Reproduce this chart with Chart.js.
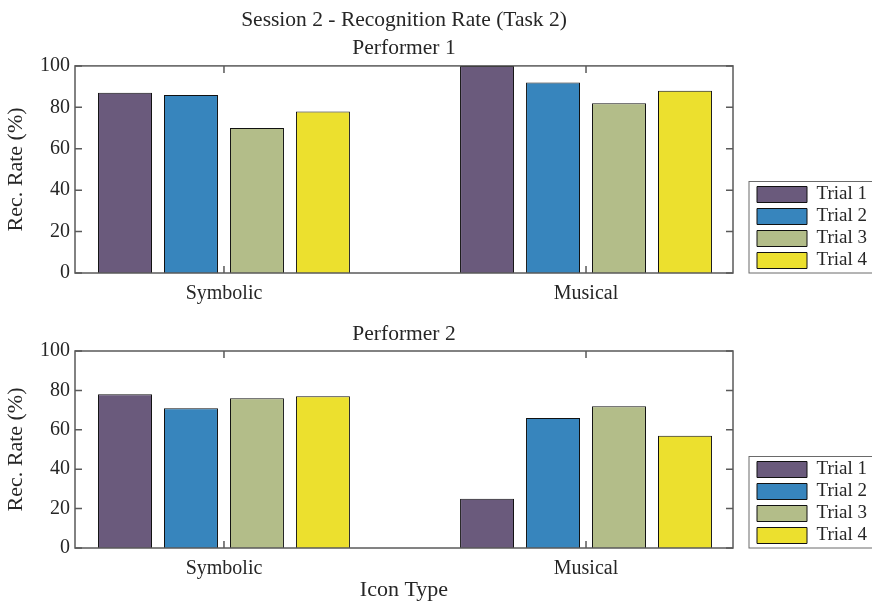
<!DOCTYPE html>
<html>
<head>
<meta charset="utf-8">
<script src="https://cdn.jsdelivr.net/npm/chart.js@4.4.1/dist/chart.umd.min.js"></script>
<style>
    html, body { margin: 0; padding: 0; background: #fff; }
    #wrap { position: relative; width: 872px; height: 604px; }
    .panel { position: absolute; left: 0; width: 872px; }
</style>
</head>
<body>
<div id="wrap">
    <div class="panel" style="top:0;height:305px"><canvas id="chart1"></canvas></div>
    <div class="panel" style="top:305px;height:299px"><canvas id="chart2"></canvas></div>
</div>
<script>
const mainTitle = 'Session 2 - Recognition Rate (Task 2)';
const categories = ['Symbolic', 'Musical'];
const trialNames = ['Trial 1', 'Trial 2', 'Trial 3', 'Trial 4'];
const trialColors = ['rgb(106, 90, 124)', 'rgb(55, 133, 189)', 'rgb(179, 189, 137)', 'rgb(236, 224, 46)'];
const yTicks = [0, 20, 40, 60, 80, 100];
// per trial: [Symbolic, Musical]
const performer1 = [[87, 100], [86, 92], [70, 82], [78, 88]];
const performer2 = [[78, 25], [71, 66], [76, 72], [77, 57]];

const textColor = '#262626';
Chart.defaults.font.family = "'Liberation Serif', 'Times New Roman', serif";
Chart.defaults.color = textColor;

// matlab style box with inner ticks, plus a border round the legend
const axesBox = {
    id: 'axesBox',
    afterDraw(chart) {
        const ctx = chart.ctx;
        const a = chart.chartArea;
        const x = chart.scales.x, y = chart.scales.y;
        ctx.save();
        ctx.strokeStyle = '#5a5a5a';
        ctx.lineWidth = 1.5;
        ctx.beginPath();
        yTicks.forEach(v => {
            const py = y.getPixelForValue(v);
            ctx.moveTo(a.left, py); ctx.lineTo(a.left + 7, py);
            ctx.moveTo(a.right, py); ctx.lineTo(a.right - 7, py);
        });
        categories.forEach((c, i) => {
            const px = x.getPixelForValue(i + 1);
            ctx.moveTo(px, a.top); ctx.lineTo(px, a.top + 7);
            ctx.moveTo(px, a.bottom); ctx.lineTo(px, a.bottom - 7);
        });
        ctx.stroke();
        ctx.strokeRect(a.left, a.top, a.width, a.height);

        const lg = chart.legend;
        if (lg && lg.legendHitBoxes && lg.legendHitBoxes.length) {
            const pad = lg.options.labels.padding;
            const left = lg.left + pad - 8;
            const top = lg.legendHitBoxes[0].top - 3.5;
            ctx.lineWidth = 1;
            ctx.strokeStyle = '#6a6a6a';
            ctx.strokeRect(left, top, chart.width + 5 - left, a.bottom - top);
        }
        ctx.restore();
    }
};

function makeChart(id, titleLines, values, withXTitle) {
    const datasets = trialNames.map((name, t) => ({
        label: name,
        data: categories.map((c, i) => ({x: i + 1, y: values[t][i]})),
        backgroundColor: trialColors[t],
        borderColor: '#111',
        borderWidth: 1,
        categoryPercentage: 0.729,
        barPercentage: 0.818
    }));
    const first = titleLines.length > 1;
    return new Chart(document.getElementById(id).getContext('2d'), {
        type: 'bar',
        data: {datasets},
        plugins: [axesBox],
        options: {
            responsive: true,
            maintainAspectRatio: false,
            animation: false,
            layout: {padding: {left: 0, right: 3, top: 0, bottom: 0}},
            plugins: {
                tooltip: {enabled: false},
                title: {
                    display: true,
                    text: titleLines,
                    fullSize: false,
                    color: textColor,
                    font: {size: 21.5, weight: 'normal', lineHeight: first ? 1.3 : 1.2},
                    padding: first ? {top: 6, bottom: 4} : {top: 16, bottom: 4.2}
                },
                legend: {
                    position: 'right',
                    align: 'end',
                    fullSize: false,
                    maxWidth: 115,
                    labels: {
                        boxWidth: 50,
                        boxHeight: 16,
                        padding: 3,
                        color: textColor,
                        font: {size: 19}
                    }
                }
            },
            scales: {
                x: {
                    type: 'linear',
                    min: 0.5885,
                    max: 2.406,
                    offset: false,
                    grid: {display: false, drawTicks: false, offset: false},
                    border: {display: false},
                    afterBuildTicks: s => { s.ticks = categories.map((c, i) => ({value: i + 1})); },
                    afterFit: s => { s.height = withXTitle ? 56 : 32; },
                    ticks: {
                        autoSkip: false,
                        maxRotation: 0,
                        padding: 9,
                        font: {size: 20},
                        callback: v => categories[v - 1]
                    },
                    title: {
                        display: withXTitle,
                        text: 'Icon Type',
                        font: {size: 22},
                        padding: {top: 0, bottom: 1}
                    }
                },
                y: {
                    min: 0,
                    max: 100,
                    grid: {display: false, drawTicks: false},
                    border: {display: false},
                    afterFit: s => { s.width = 75; },
                    ticks: {stepSize: 20, padding: 5, font: {size: 20}},
                    title: {
                        display: true,
                        text: 'Rec. Rate (%)',
                        font: {size: 22},
                        padding: {top: 3, bottom: 0}
                    }
                },
                gap: {
                    type: 'linear',
                    position: 'right',
                    display: true,
                    grid: {display: false, drawTicks: false},
                    border: {display: false},
                    ticks: {display: false},
                    afterFit: s => { s.width = 21; }
                }
            }
        }
    });
}

window.addEventListener('load', function () {
    makeChart('chart1', [mainTitle, 'Performer 1'], performer1, false);
    makeChart('chart2', ['Performer 2'], performer2, true);
});
</script>
</body>
</html>
